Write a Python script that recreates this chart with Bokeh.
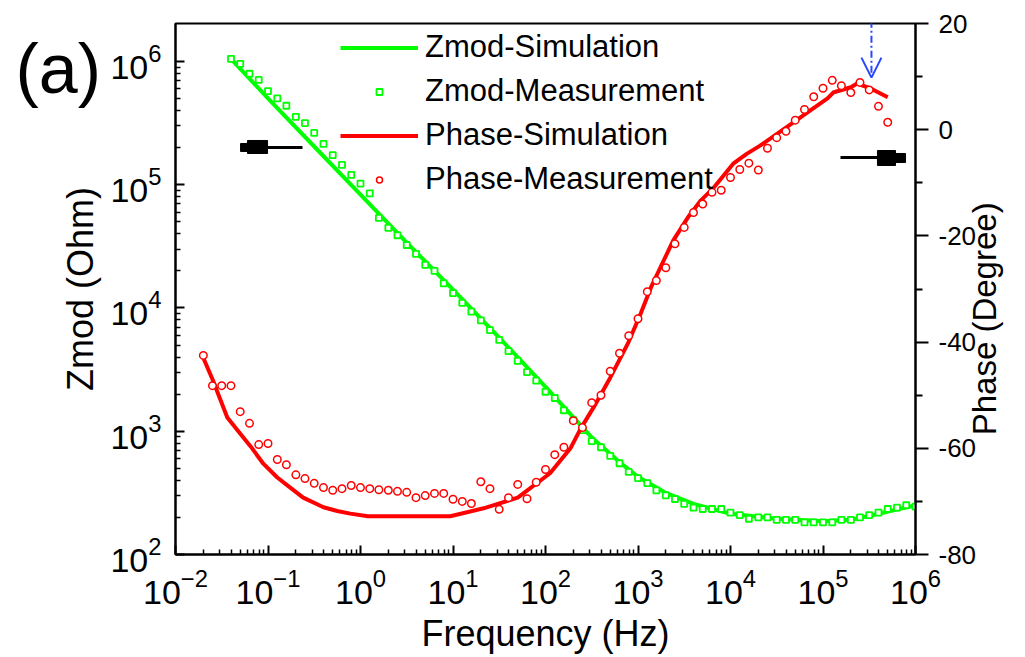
import math
from bokeh.plotting import figure
from bokeh.models import (LinearAxis, Range1d, Legend, LegendItem, Arrow, LinearScale,
                          OpenHead, BoxAnnotation, PrintfTickFormatter, FixedTicker)
from bokeh.embed import file_html
from bokeh.resources import INLINE

# ---------------- data ----------------
FREQ = [0.0200, 0.0251, 0.0316, 0.0398, 0.0501, 0.0631, 0.0794,
        0.100, 0.126, 0.158, 0.200, 0.251, 0.316, 0.398, 0.501, 0.631, 0.794,
        1.00, 1.26, 1.58, 2.00, 2.51, 3.16, 3.98, 5.01, 6.31, 7.94,
        10.0, 12.6, 15.8, 20.0, 25.1, 31.6, 39.8, 50.1, 63.1, 79.4,
        100, 126, 158, 200, 251, 316, 398, 501, 631, 794,
        1000, 1260, 1580, 2000, 2510, 3160, 3980, 5010, 6310, 7940,
        10000, 12600, 15800, 20000, 25100, 31600, 39800, 50100, 63100, 79400,
        100000, 126000, 158000, 200000, 251000, 316000, 398000, 501000, 631000, 794000,
        1000000]

ZMOD_MEAS_F = FREQ[3:]
ZMOD_MEAS = [1.05e6, 955000, 794000, 708000, 575000, 501000, 437000, 355000, 316000, 263000,
             214000, 174000, 145000, 120000, 102000, 85100, 53700, 44700, 38900, 32400,
             27500, 22400, 20000, 15800, 13200, 11000, 9330, 7940, 6610, 5500,
             4470, 3720, 3020, 2570, 2090, 1860, 1480, 1230, 1020, 832,
             741, 631, 550, 468, 417, 380, 331, 302, 282, 257,
             240, 234, 234, 234, 219, 209, 195, 200, 200, 191,
             191, 191, 182, 182, 182, 182, 191, 191, 200, 209,
             219, 234, 240, 251, 245]

PHASE_MEAS_F = FREQ[:75]
PHASE_MEAS = [-42.5, -48.2, -48.2, -48.2, -53.1, -55.3, -59.3, -59.1, -62.1, -63.1,
              -65.0, -65.7, -66.6, -67.4, -67.9, -67.6, -67.0, -67.4, -67.6, -67.8,
              -67.9, -68.1, -68.3, -69.3, -68.9, -68.5, -68.5, -69.6, -70.0, -70.4,
              -66.3, -67.6, -71.5, -69.3, -66.8, -69.5, -66.4, -64.0, -61.2, -59.8,
              -54.8, -56.1, -51.4, -50.0, -45.5, -42.1, -38.8, -35.6, -30.5, -28.4,
              -26.0, -21.5, -18.4, -15.6, -14.0, -11.8, -11.4, -9.0, -7.5, -6.3,
              -7.6, -3.5, -1.5, -0.3, 1.8, 3.8, 6.2, 7.8, 9.3, 8.3,
              7.0, 8.9, 7.5, 4.4, 1.4]

ZMOD_SIM_F = [0.0398, 0.1, 0.316, 1, 3.16, 10, 31.6, 100, 316, 631, 1000, 2000, 3980,
              10000, 31600, 100000, 200000, 398000, 1000000]
ZMOD_SIM = [1.05e6, 501000, 204000, 83200, 33900, 14100, 5750, 2290, 891, 562, 427, 316, 257,
            214, 195, 186, 191, 214, 251]

PHASE_SIM_F = [0.02, 0.0251, 0.0363, 0.0468, 0.0646, 0.089, 0.126, 0.174, 0.240, 0.398,
               0.56, 0.776, 1.20, 3.16, 9.33, 21.4, 50.1, 112, 186, 240,
               331, 501, 776, 1070, 1380, 1740, 2400, 3470, 4790, 6610,
               10700, 15100, 20900, 32400, 47900, 72400, 112000, 129000, 200000, 234000,
               324000, 501000]
PHASE_SIM = [-43.0, -47.0, -54.2, -56.6, -59.6, -62.9, -65.5, -67.4, -69.3, -71.1,
             -71.8, -72.3, -72.8, -72.8, -72.8, -71.3, -69.3, -64.7, -60.0, -56.3,
             -52.3, -46.7, -40.3, -34.6, -29.7, -26.0, -20.9, -16.5, -13.3, -10.9,
             -6.4, -4.5, -3.0, -0.7, 1.4, 3.6, 5.9, 7.0, 8.0, 8.7,
             7.8, 6.1]

X_MAJOR = [1e-2, 1e-1, 1e0, 1e1, 1e2, 1e3, 1e4, 1e5, 1e6]
Y_MAJOR = [1e2, 1e3, 1e4, 1e5, 1e6]
PHASE_MAJOR = [-80, -60, -40, -20, 0, 20]
PHASE_MINOR = [-70, -50, -30, -10, 10]

GREEN = "#00ff00"
RED = "#ff0000"
FONT = "Liberation Sans"

# ---------------- figure ----------------
p = figure(width=1025, height=657, x_axis_type="log", y_axis_type="log",
           x_range=Range1d(1e-2, 1e6), y_range=Range1d(100, 2.03e6),
           output_backend="svg", toolbar_location=None,
           min_border_left=175, min_border_right=110, min_border_top=23, min_border_bottom=103)
p.extra_y_ranges = {"phase": Range1d(-80, 20)}
p.extra_y_scales = {"phase": LinearScale()}
p.xgrid.visible = False
p.ygrid.visible = False
p.outline_line_color = "black"
p.outline_line_width = 2
p.background_fill_color = "white"
p.border_fill_color = "white"


def minor_log(majors):
    return [m * e for e in majors[:-1] for m in range(2, 10)]


xa = p.xaxis[0]
xa.ticker = FixedTicker(ticks=X_MAJOR, minor_ticks=minor_log(X_MAJOR))
ya = p.yaxis[0]
ya.ticker = FixedTicker(ticks=Y_MAJOR, minor_ticks=minor_log(Y_MAJOR))

for ax in (xa, ya):
    ax.axis_line_width = 2
    ax.major_tick_line_width = 2
    ax.minor_tick_line_width = 1.5
    ax.major_tick_in = 9
    ax.major_tick_out = 0
    ax.minor_tick_in = 5
    ax.minor_tick_out = 0
    ax.major_label_text_font = FONT
    ax.major_label_text_font_size = "34px"
    ax.major_label_text_color = "black"
    ax.axis_label_text_font = FONT
    ax.axis_label_text_font_size = "36px"
    ax.axis_label_text_font_style = "normal"
    ax.axis_label_text_color = "black"
    ax.major_label_standoff = 14

xa.axis_label = "Frequency (Hz)"
xa.axis_label_standoff = 6
ya.axis_label = "Zmod (Ohm)"
ya.axis_label_standoff = 6

ra = LinearAxis(y_range_name="phase",
                ticker=FixedTicker(ticks=PHASE_MAJOR, minor_ticks=PHASE_MINOR),
                formatter=PrintfTickFormatter(format="%d"))
# label reads bottom-to-top; non-breaking spaces lift it to where the reference has it
ra.axis_label = "\u00a0" * 13 + "Phase (Degree)"
ra.axis_line_width = 2
ra.major_tick_line_width = 2
ra.minor_tick_line_width = 2
ra.major_tick_in = 0
ra.major_tick_out = 13
ra.minor_tick_in = 0
ra.minor_tick_out = 7
ra.major_label_text_font = FONT
ra.major_label_text_font_size = "26px"
ra.major_label_text_color = "black"
ra.major_label_standoff = 10
ra.axis_label_text_font = FONT
ra.axis_label_text_font_size = "33px"
ra.axis_label_text_font_style = "normal"
ra.axis_label_text_color = "black"
ra.axis_label_standoff = 5
ra.axis_label_orientation = math.pi / 2
if "axis_label_align" in ra.properties():
    ra.axis_label_align = "start"
p.add_layout(ra, "right")

# ---------------- series ----------------
r_zs = p.line(ZMOD_SIM_F, ZMOD_SIM, line_color=GREEN, line_width=4)
r_zm = p.scatter(ZMOD_MEAS_F, ZMOD_MEAS, marker="square", size=6, line_color=GREEN,
                 line_width=1.8, fill_color="white")
r_ps = p.line(PHASE_SIM_F, PHASE_SIM, line_color=RED, line_width=4, y_range_name="phase")
r_pm = p.scatter(PHASE_MEAS_F, PHASE_MEAS, marker="circle", size=7.5, line_color=RED,
                 line_width=1.5, fill_color="white", y_range_name="phase")

legend = Legend(items=[LegendItem(label="Zmod-Simulation", renderers=[r_zs]),
                       LegendItem(label="Zmod-Measurement", renderers=[r_zm]),
                       LegendItem(label="Phase-Simulation", renderers=[r_ps]),
                       LegendItem(label="Phase-Measurement", renderers=[r_pm])],
                location=(165, 357), background_fill_alpha=0, border_line_alpha=0,
                label_text_font=FONT, label_text_font_size="31px", label_text_color="black",
                glyph_width=78, glyph_height=15, label_height=35, spacing=8,
                padding=0, margin=0, label_standoff=7)
p.add_layout(legend)

# ---------------- annotations ----------------
BLUE = "#2a46ff"
p.add_layout(Arrow(end=OpenHead(size=20, line_color=BLUE, line_width=2),
                   x_start=3.34e5, y_start=20.5, x_end=3.34e5, y_end=9.8,
                   y_range_name="phase", line_color=BLUE, line_width=2,
                   line_dash="7 3 2 3"))

# left-pointing axis marker (points to Zmod axis)
p.add_layout(Arrow(end=None, x_start=0.236, y_start=-3.35, x_end=0.062, y_end=-3.35,
                   y_range_name="phase", line_color="black", line_width=3))
p.add_layout(BoxAnnotation(left=0.060, right=0.0989, bottom=-4.48, top=-2.03,
                           y_range_name="phase", fill_color="black", fill_alpha=1,
                           line_color="black", line_alpha=1, line_width=1))
p.add_layout(BoxAnnotation(left=0.0505, right=0.060, bottom=-4.1, top=-2.6,
                           y_range_name="phase", fill_color="black", fill_alpha=1,
                           line_color="black", line_alpha=1, line_width=1))
# right-pointing axis marker (points to Phase axis)
p.add_layout(Arrow(end=None, x_start=1.545e5, y_start=-5.24, x_end=3.9e5, y_end=-5.24,
                   y_range_name="phase", line_color="black", line_width=3))
p.add_layout(BoxAnnotation(left=3.88e5, right=6.08e5, bottom=-6.74, top=-3.92,
                           y_range_name="phase", fill_color="black", fill_alpha=1,
                           line_color="black", line_alpha=1, line_width=1))
p.add_layout(BoxAnnotation(left=6.08e5, right=7.8e5, bottom=-6.18, top=-4.48,
                           y_range_name="phase", fill_color="black", fill_alpha=1,
                           line_color="black", line_alpha=1, line_width=1))

# panel label "(a)": the title, shifted into the top-left corner
p.title.text = "(a)"
p.title.text_font = FONT
p.title.text_font_size = "70px"
p.title.text_font_style = "normal"
p.title.text_color = "black"
p.title.align = "left"
p.title.offset = -160
p.title.standoff = -168
p.title.vertical_align = "bottom"

open("out.html", "w").write(file_html(p, INLINE))
